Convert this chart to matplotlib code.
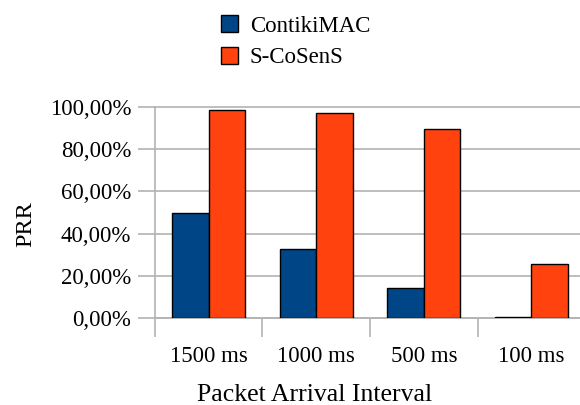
import numpy as np
import matplotlib.pyplot as plt
from matplotlib.patches import Patch

plt.rcParams['font.family'] = ['Liberation Serif', 'DejaVu Serif']

# data
categories = ['1500 ms', '1000 ms', '500 ms', '100 ms']
contiki = [49.8, 32.8, 14.3, 0.6]
scosens = [98.6, 97.0, 89.6, 25.7]
yticks = [0, 20, 40, 60, 80, 100]
ytick_labels = ['0,00%', '20,00%', '40,00%', '60,00%', '80,00%', '100,00%']

fig = plt.figure(figsize=(5.8, 4.05), dpi=100)
ax = fig.add_axes([0.267, 0.215, 0.742, 0.521])

x = np.arange(len(categories)) + 0.5
w = 0.34
ax.bar(x - w / 2, contiki, w, color='#004586', edgecolor='black', linewidth=1, zorder=3)
ax.bar(x + w / 2, scosens, w, color='#ff420e', edgecolor='black', linewidth=1, zorder=3)

ax.set_xlim(0, len(categories))
ax.set_ylim(0, 100)
ax.set_yticks(yticks)
ax.set_yticklabels(ytick_labels, fontsize=16.5)
ax.set_xticks(np.arange(len(categories) + 1))
ax.set_xticklabels([])
ax.set_xticks(x, minor=True)
ax.set_xticklabels(categories, minor=True, fontsize=16.5)
ax.tick_params(axis='x', which='minor', length=0, pad=20)
ax.tick_params(axis='x', which='major', length=14, color='#b3b3b3', width=1.2)
ax.tick_params(axis='y', length=12, color='#b3b3b3', width=1.2, pad=5)

ax.yaxis.grid(True, color='#b3b3b3', linewidth=1.2, zorder=0)
for l in ax.yaxis.get_gridlines():
    l.set_clip_on(False)
for s in ['top', 'right']:
    ax.spines[s].set_visible(False)
for s in ['left', 'bottom']:
    ax.spines[s].set_color('#b3b3b3')
    ax.spines[s].set_linewidth(1.2)

ax.set_ylabel('PRR', fontsize=17.5)
ax.yaxis.set_label_coords(-0.275, 0.445)
ax.set_xlabel('Packet Arrival Interval', fontsize=18.5)
ax.xaxis.set_label_coords(0.372, -0.315)

handles = [Patch(facecolor='#004586', edgecolor='black'),
           Patch(facecolor='#ff420e', edgecolor='black')]
fig.legend(handles, ['ContikiMAC', 'S-CoSenS'], loc='upper left',
           bbox_to_anchor=(0.346, 1.013), frameon=False, fontsize=16.5,
           handlelength=0.75, handleheight=0.75, handletextpad=0.5,
           labelspacing=0.45)

fig.savefig('out.png', dpi=100)
